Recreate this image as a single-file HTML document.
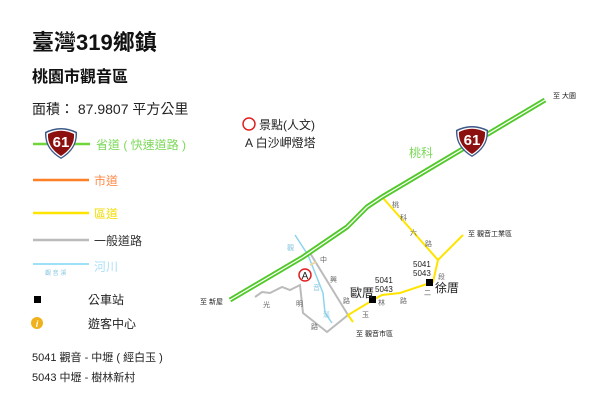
<!DOCTYPE html>
<html><head><meta charset="utf-8"><style>
html,body{margin:0;padding:0;background:#fff;width:600px;height:403px;overflow:hidden}
svg{display:block}
text{font-family:"Liberation Sans","Noto Sans CJK TC",sans-serif}
</style></head><body>
<svg width="600" height="403" viewBox="0 0 600 403" xmlns="http://www.w3.org/2000/svg">
<defs>
<g id="shield">
<path d="M-16,-11 Q0,-19 16,-11 Q17,6 0,16 Q-17,6 -16,-11Z" fill="#3d5a8a"/>
<path d="M-14.5,-10 Q0,-17 14.5,-10 Q15.5,5 0,14.5 Q-15.5,5 -14.5,-10Z" fill="#fff"/>
<path d="M-13,-9 Q0,-15.5 13,-9 Q14,4 0,13 Q-14,4 -13,-9Z" fill="#8c1010"/>
<text x="0" y="4" font-size="15" font-weight="bold" fill="#fff" text-anchor="middle">61</text>
</g>
</defs>
<text x="32" y="50" font-size="22" font-weight="bold" fill="#111">臺灣319鄉鎮</text>
<text x="32" y="82" font-size="16" font-weight="bold" fill="#111">桃園市觀音區</text>
<text x="32" y="114" font-size="14" fill="#222">面積： 87.9807 平方公里</text>
<line x1="33" y1="144" x2="90" y2="144" stroke="#6fd63c" stroke-width="2.5"/>
<use href="#shield" x="61" y="143"/>
<text x="96" y="149" font-size="12" fill="#7cd85a">省道 ( 快速道路 )</text>
<line x1="33" y1="180" x2="89" y2="180" stroke="#ff7f27" stroke-width="2.5"/>
<text x="94" y="185" font-size="12" fill="#ff8a4a">市道</text>
<line x1="33" y1="213" x2="89" y2="213" stroke="#ffe400" stroke-width="2.5"/>
<text x="94" y="218" font-size="12" fill="#f2dc00">區道</text>
<line x1="33" y1="240" x2="89" y2="240" stroke="#bbb" stroke-width="2.5"/>
<text x="94" y="245" font-size="12" fill="#333">一般道路</text>
<line x1="33" y1="264" x2="89" y2="264" stroke="#9ee0f5" stroke-width="2"/>
<text x="45" y="275" font-size="6" fill="#8bc8e0">觀 音 溪</text>
<text x="94" y="271" font-size="12" fill="#aee0f5">河川</text>
<rect x="34" y="296" width="7" height="7" fill="#000"/>
<text x="88" y="304" font-size="12" fill="#222">公車站</text>
<circle cx="37" cy="323" r="6" fill="#f0b21c"/>
<text x="37" y="327" font-size="9" font-style="italic" font-weight="bold" fill="#fff" text-anchor="middle">i</text>
<text x="88" y="328" font-size="12" fill="#222">遊客中心</text>
<text x="32" y="361" font-size="11" fill="#222">5041 觀音 - 中壢 ( 經白玉 )</text>
<text x="32" y="381" font-size="11" fill="#222">5043 中壢 - 樹林新村</text>

<circle cx="249" cy="124" r="6" fill="none" stroke="#e02020" stroke-width="1.5"/>
<text x="259" y="129" font-size="12" fill="#222">景點(人文)</text>
<text x="245" y="147" font-size="12" fill="#222">A 白沙岬燈塔</text>

<polyline points="295,235 308,255 323,293 325,313 332,323" fill="none" stroke="#8ed4ee" stroke-width="1.5"/>
<polyline points="310,253 348,315 327,332 303,313 300,285 290,290 282,287 270,293 262,292 255,297" fill="none" stroke="#bbb" stroke-width="2"/>
<line x1="310" y1="265" x2="316" y2="262" stroke="#e8d8a0" stroke-width="2"/>
<polyline points="383,198 438,260 463,235" fill="none" stroke="#ffe400" stroke-width="2"/>
<polyline points="438,260 433,282 400,293 382,295 373,300 348,315 353,322" fill="none" stroke="#ffe400" stroke-width="2"/>
<polyline points="230,300 303,257 347,227 367,207 382,197 545,100" fill="none" stroke="#52c92a" stroke-width="5" stroke-linejoin="round"/>
<polyline points="230,300 303,257 347,227 367,207 382,197 545,100" fill="none" stroke="#fff" stroke-width="1.3" stroke-linejoin="round"/>
<use href="#shield" x="472" y="141"/>
<text x="409" y="157" font-size="12" fill="#7cd85a">桃科</text>

<circle cx="305" cy="275" r="6" fill="#fff" stroke="#e02020" stroke-width="1.5"/>
<text x="305" y="279" font-size="10" fill="#222" text-anchor="middle">A</text>

<rect x="369" y="296" width="7" height="7" fill="#000"/>
<rect x="426" y="279" width="7" height="7" fill="#000"/>
<text x="350" y="297" font-size="12" fill="#222">歐厝</text>
<text x="435" y="292" font-size="12" fill="#222">徐厝</text>
<text x="375" y="283" font-size="8" fill="#222">5041</text>
<text x="375" y="292" font-size="8" fill="#222">5043</text>
<text x="413" y="267" font-size="8" fill="#222">5041</text>
<text x="413" y="276" font-size="8" fill="#222">5043</text>
<g font-size="7" fill="#666">
<text x="392" y="207">桃</text><text x="400" y="220">科</text><text x="410" y="235">六</text><text x="425" y="246">路</text>
<text x="438" y="279">段</text><text x="424" y="295">二</text>
<text x="378" y="305">林</text><text x="400" y="303">路</text><text x="362" y="317">玉</text>
<text x="320" y="262">中</text><text x="330" y="282">興</text><text x="343" y="303">路</text>
<text x="263" y="307">光</text><text x="296" y="306">明</text><text x="311" y="329">路</text>
</g>
<g font-size="7" fill="#8bc8e0"><text x="287" y="250">觀</text><text x="313" y="290">音</text><text x="323" y="317">溪</text></g>
<g font-size="7" fill="#222">
<text x="200" y="304">至 新屋</text>
<text x="553" y="98">至 大園</text>
<text x="468" y="236">至 觀音工業區</text>
<text x="356" y="336">至 觀音市區</text>
</g>
</svg>
</body></html>
